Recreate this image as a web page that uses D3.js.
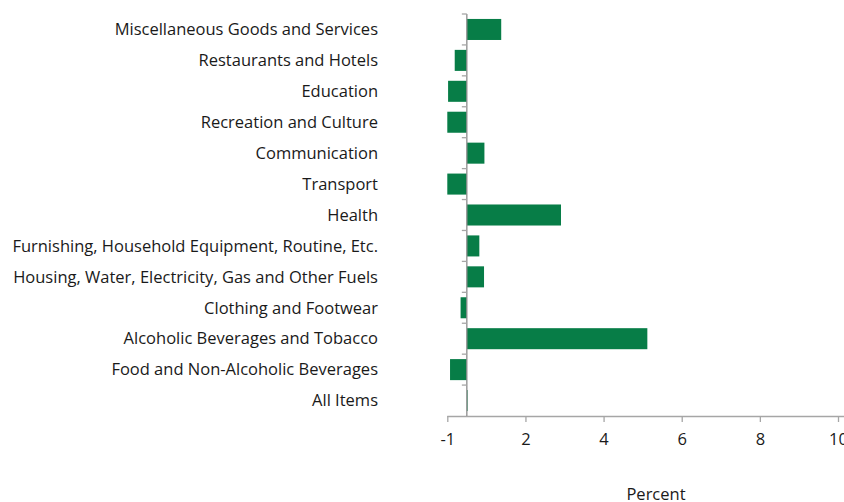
<!DOCTYPE html>
<html>
<head>
<meta charset="utf-8">
<script src="https://cdn.jsdelivr.net/npm/d3@7"></script>
<style>
  html, body { margin: 0; padding: 0; background: #fff; }
  svg { display: block; }
  text { font-family: "Open Sans", "Noto Sans", sans-serif; fill: #1a1a1a; }
</style>
</head>
<body>
<svg id="chart" width="844" height="502"></svg>
<script>
// Categories, listed bottom to top as drawn
const categories = [
  "All Items",
  "Food and Non-Alcoholic Beverages",
  "Alcoholic Beverages and Tobacco",
  "Clothing and Footwear",
  "Housing, Water, Electricity, Gas and Other Fuels",
  "Furnishing, Household Equipment, Routine, Etc.",
  "Health",
  "Transport",
  "Communication",
  "Recreation and Culture",
  "Education",
  "Restaurants and Hotels",
  "Miscellaneous Goods and Services"
];

// Percent change per category
const values = [0.02, -0.43, 4.62, -0.16, 0.44, 0.32, 2.41, -0.50, 0.45, -0.50, -0.48, -0.31, 0.88];

// Axis ticks and their printed labels
const xTickValues = [-0.5, 1.5, 3.5, 5.5, 7.5, 9.5];
const xTickLabels = ["-1", "2", "4", "6", "8", "10"];

const xTitle = "Percent";

const svg = d3.select("#chart");

const plot = { left: 447.3, right: 838, top: 14, bottom: 416 };
const fontSize = "16.5px";

const x = d3.scaleLinear()
  .domain([-0.5, 9.5])
  .range([plot.left, plot.right]);

const y = d3.scaleBand()
  .domain(categories.slice().reverse())
  .range([plot.top, plot.bottom])
  .paddingInner(0.32)
  .paddingOuter(0.16);

const barColor = "#077d47";
const axisColor = "#a6a6a6";

// Bars
svg.append("g")
  .selectAll("rect")
  .data(categories.map((c, i) => ({ c, v: values[i] })))
  .join("rect")
  .attr("x", d => x(Math.min(0, d.v)))
  .attr("width", d => Math.abs(x(d.v) - x(0)))
  .attr("y", d => y(d.c))
  .attr("height", y.bandwidth())
  .attr("fill", barColor);

// X axis
const xAxis = d3.axisBottom(x)
  .tickValues(xTickValues)
  .tickFormat((d, i) => xTickLabels[i])
  .tickSize(6)
  .tickSizeOuter(0);

const gx = svg.append("g")
  .attr("transform", `translate(0,${plot.bottom})`)
  .call(xAxis);
gx.select(".domain").attr("stroke", axisColor).attr("stroke-width", 1.3)
  .attr("d", `M${plot.left},0.5H844`);
gx.selectAll(".tick line").attr("stroke", axisColor).attr("stroke-width", 1.3);
gx.selectAll(".tick text")
  .attr("dy", 0)
  .attr("y", 29)
  .style("font-size", fontSize)
  .style("font-family", "'Open Sans', sans-serif")
  .attr("fill", "#1a1a1a");

// Y axis at zero, ticks on band boundaries
const x0 = x(0);
const gy = svg.append("g");
gy.append("line")
  .attr("x1", x0).attr("x2", x0)
  .attr("y1", plot.top).attr("y2", plot.bottom)
  .attr("stroke", "#8c8c8c").attr("stroke-width", 1.3);
const step = y.step();
const boundaries = d3.range(categories.length).map(i => plot.top + i * step);
gy.selectAll("line.tk")
  .data(boundaries)
  .join("line")
  .attr("class", "tk")
  .attr("x1", x0 - 5).attr("x2", x0)
  .attr("y1", d => d).attr("y2", d => d)
  .attr("stroke", axisColor).attr("stroke-width", 1.3);

// Category labels
svg.append("g")
  .selectAll("text")
  .data(categories)
  .join("text")
  .attr("x", 378)
  .attr("y", d => y(d) + y.bandwidth() / 2)
  .attr("dy", "0.35em")
  .attr("text-anchor", "end")
  .style("font-size", fontSize)
  .text(d => d);

// Axis title
svg.append("text")
  .attr("x", 656)
  .attr("y", 494)
  .attr("dy", "0.35em")
  .attr("text-anchor", "middle")
  .style("font-size", fontSize)
  .text(xTitle);
</script>
</body>
</html>
